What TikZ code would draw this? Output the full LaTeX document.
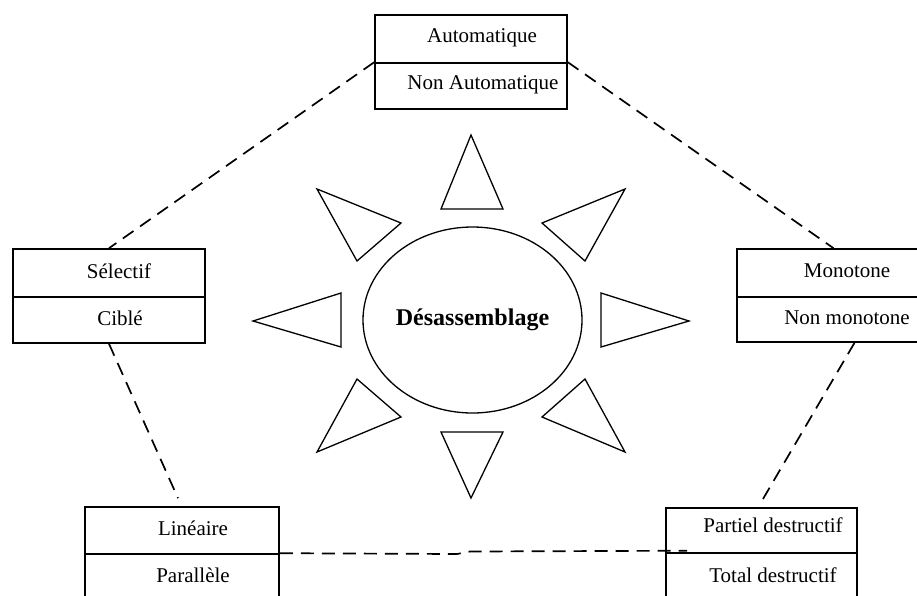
\documentclass[tikz,border=0pt]{standalone}
\usepackage{fontspec}
\setmainfont{Liberation Serif}
\usetikzlibrary{shapes.geometric,calc}
\begin{document}
\begin{tikzpicture}[x=1pt,y=-1pt,
  cell/.style={draw,line width=1.6pt,rectangle,inner sep=0pt,minimum width=#1},
  cell/.default=192pt,
  lbl/.style={inner sep=0pt,font=\fontsize{21}{25}\selectfont},
  link/.style={line width=1.7pt,dash pattern=on 13pt off 8pt},
  ray/.style={draw,line width=1.3pt,line join=miter}]
\useasboundingbox (0,0) rectangle (917,595);
\clip (0,0) rectangle (917,595);
% top box
\node[cell,minimum height=48pt] (tA) at (471,39) {};
\node[cell,minimum height=46pt] (tB) at (471,86) {};
\node[lbl] (tAt) at (482,38) {Automatique};
\node[lbl] (tBt) at (483,85) {Non Automatique};
% left box
\node[cell,minimum height=48pt] (sA) at (109,273) {};
\node[cell,minimum height=46pt] (sB) at (109,320) {};
\node[lbl] (sAt) at (119,271) {Sélectif};
\node[lbl] (sBt) at (120,318) {Ciblé};
% right box
\node[cell=193pt,minimum height=48pt] (mA) at (833.5,273) {};
\node[cell=193pt,minimum height=45pt] (mB) at (833.5,319.5) {};
\node[lbl] (mAt) at (847,271) {Monotone};
\node[lbl] (mBt) at (847,318) {Non monotone};
% bottom-left box
\node[cell=194pt,minimum height=47pt] (lA) at (182,530.5) {};
\node[cell=194pt,minimum height=60pt] (lB) at (182,584) {};
\node[lbl] (lAt) at (193,528) {Linéaire};
\node[lbl] (lBt) at (193,575) {Parallèle};
% bottom-right box
\node[cell=191pt,minimum height=45pt] (pA) at (761.5,530.5) {};
\node[cell=191pt,minimum height=60pt] (pB) at (761.5,583) {};
\node[lbl] (pAt) at (773,525) {Partiel destructif};
\node[lbl] (pBt) at (773,575) {Total destructif};
% centre
\node[draw,ellipse,line width=1.3pt,minimum width=219pt,minimum height=186pt,inner sep=0pt,
  font=\fontsize{24}{28}\selectfont\bfseries] (core) at (472.5,320) {Désassemblage};
% rays
\draw[ray] (471,135) -- (441,209) -- (503,209) -- cycle;
\draw[ray] (471,498) -- (441,432) -- (503,432) -- cycle;
\draw[ray] (253,321) -- (341,293) -- (341,347) -- cycle;
\draw[ray] (689,321) -- (601,293) -- (601,347) -- cycle;
\draw[ray] (317,189) -- (401,223) -- (357,261) -- cycle;
\draw[ray] (625,189) -- (542,223) -- (585,261) -- cycle;
\draw[ray] (357,379) -- (401,417) -- (317,452) -- cycle;
\draw[ray] (585,379) -- (542,417) -- (625,452) -- cycle;
% connectors
\draw[link] (tB.north west) -- (sA.north);
\draw[link] (tB.north east) -- (mA.north);
\draw[link] (sB.south) -- ($(lA.north)+(-4,-8)$);
\coordinate (mBs) at ($(mB.south)+(21,0)$);
\draw[link] (mBs) -- ($(pA.north)+(-1,-4)$);
\coordinate (k1) at (457,554);
\coordinate (k2) at (470,551.5);
\coordinate (pe) at ($(pB.north west)+(22,-1.5)$);
\draw[link] (lB.north east) -- (k1) -- (k2) -- (pe);
\end{tikzpicture}
\end{document}
